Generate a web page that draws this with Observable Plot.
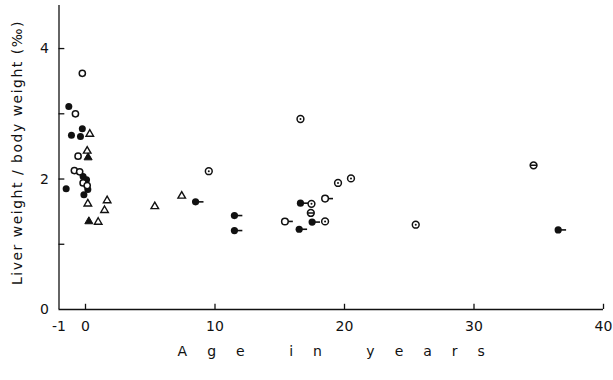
<!DOCTYPE html>
<html>
<head>
<meta charset="utf-8">
<script src="https://cdn.jsdelivr.net/npm/d3@7"></script>
<script src="https://cdn.jsdelivr.net/npm/@observablehq/plot@0.6"></script>
<style>
  body { margin: 0; background: #fff; }
  #chart svg { display: block; }
</style>
</head>
<body>
<div id="chart"></div>
<script>
// Liver weight / body weight (‰) against age in years; -1..0 is the prenatal year.
// Filled circles
const filledAge   = [-0.63, -0.12, -0.53, -0.19, -0.09, 0.08, 0.18, -0.06, -0.73];
const filledRatio = [3.11, 2.77, 2.67, 2.65, 2.04, 1.99, 1.84, 1.76, 1.85];
// Open circles
const openAge   = [-0.12, -0.38, -0.28, -0.42, -0.22, -0.09, 0.13];
const openRatio = [3.62, 3.00, 2.35, 2.13, 2.11, 1.94, 1.90];
// Filled triangles
const filledTriAge   = [0.20, 0.26];
const filledTriRatio = [2.33, 1.35];
// Open triangles
const openTriAge   = [0.33, 0.13, 0.18, 1.67, 1.47, 0.98, 5.35, 7.43];
const openTriRatio = [2.69, 2.43, 1.62, 1.67, 1.52, 1.34, 1.58, 1.74];
// Circles with a centre dot
const dotCircAge   = [9.52, 16.6, 17.45, 18.5, 19.5, 20.5, 25.5];
const dotCircRatio = [2.12, 2.92, 1.62, 1.35, 1.94, 2.01, 1.30];
// Circles with a bar
const barCircAge   = [17.4, 34.6];
const barCircRatio = [1.48, 2.21];
// Filled circles with a tail (age given as lower bound)
const tailFilledAge   = [8.5, 11.5, 11.5, 16.6, 17.5, 16.5, 36.5];
const tailFilledRatio = [1.65, 1.44, 1.21, 1.63, 1.34, 1.23, 1.22];
// Open circles with a tail
const tailOpenAge   = [15.4, 18.5];
const tailOpenRatio = [1.35, 1.70];

const xTicks = [0, 10, 20, 30, 40];
const xTickLabels = [-1, 0, 10, 20, 30, 40];
const yTicks = [1, 2, 3, 4];
const yTickLabels = [0, 2, 4];
const xTitle = "Age in years";
const yTitle = "Liver weight / body weight (‰)";

const pts = (ages, ratios) => ages.map((a, i) => ({age: a, ratio: ratios[i]}));
const filled = pts(filledAge, filledRatio);
const open = pts(openAge, openRatio);
const filledTri = pts(filledTriAge, filledTriRatio);
const openTri = pts(openTriAge, openTriRatio);
const dotCirc = pts(dotCircAge, dotCircRatio);
const barCirc = pts(barCircAge, barCircRatio);
const tailFilled = pts(tailFilledAge, tailFilledRatio);
const tailOpen = pts(tailOpenAge, tailOpenRatio);
const tails = tailFilled.concat(tailOpen);

// circle crossed by a horizontal bar
const barSymbol = {
  draw(ctx, size) {
    const r = Math.sqrt(size / Math.PI);
    ctx.moveTo(r, 0);
    ctx.arc(0, 0, r, 0, 2 * Math.PI);
    ctx.moveTo(-r, 0);
    ctx.lineTo(r, 0);
  }
};

const ink = "#111";
const font = "'DejaVu Sans', 'Liberation Sans', sans-serif";

const chart = Plot.plot({
  width: 613,
  height: 380,
  marginLeft: 58.5,
  marginRight: 10,
  marginTop: 5,
  marginBottom: 71,
  style: {fontFamily: font, fontSize: "14px", color: ink, background: "#fff"},
  x: {type: "linear", domain: [-1, 0, 40], range: [58.5, 85, 603],
      ticks: xTickLabels, tickSize: 0, tickPadding: 12, tickFormat: d => String(d), label: null},
  y: {type: "linear", domain: [0, 4.66], range: [309, 5],
      ticks: yTickLabels, tickSize: 0, tickPadding: 10, tickFormat: d => String(d), label: null},
  marks: [
    // axis lines
    Plot.ruleY([0], {stroke: ink, strokeWidth: 1.3}),
    Plot.ruleX([-1], {stroke: ink, strokeWidth: 1.3}),
    // inward ticks
    Plot.ruleX(xTicks, {x: d => d, y1: 0, y2: 0.08, stroke: ink, strokeWidth: 1.3}),
    Plot.ruleY(yTicks, {y: d => d, x1: -1, x2: -0.78, stroke: ink, strokeWidth: 1.3}),
    // titles
    Plot.text([xTitle], {frameAnchor: "bottom", dy: 46, dx: 10, text: d => d, fontSize: 14}),
    Plot.text([yTitle], {frameAnchor: "left", textAnchor: "middle", rotate: -90, dx: -41, dy: -5, text: d => d, fontSize: 14}),
    // tails
    Plot.ruleY(tails, {y: "ratio", x1: "age", x2: d => d.age + 0.65, stroke: ink, strokeWidth: 1.6}),
    // markers
    Plot.dot(filled, {x: "age", y: "ratio", r: 3.5, fill: ink, stroke: null}),
    Plot.dot(tailFilled, {x: "age", y: "ratio", r: 3.6, fill: ink, stroke: null}),
    Plot.dot(open, {x: "age", y: "ratio", r: 3.1, fill: "#fff", stroke: ink, strokeWidth: 1.5}),
    Plot.dot(tailOpen, {x: "age", y: "ratio", r: 3.3, fill: "#fff", stroke: ink, strokeWidth: 1.5}),
    Plot.dot(dotCirc, {x: "age", y: "ratio", r: 3.4, fill: "#fff", stroke: ink, strokeWidth: 1.5}),
    Plot.dot(dotCirc, {x: "age", y: "ratio", r: 1, fill: ink, stroke: null}),
    Plot.dot(barCirc, {x: "age", y: "ratio", r: 3.4, symbol: barSymbol, fill: "#fff", stroke: ink, strokeWidth: 1.5}),
    Plot.dot(openTri, {x: "age", y: "ratio", r: 2.8, symbol: "triangle", fill: "#fff", stroke: ink, strokeWidth: 1.4}),
    Plot.dot(filledTri, {x: "age", y: "ratio", r: 3.0, symbol: "triangle", fill: ink, stroke: ink, strokeWidth: 1})
  ]
});

const svg = d3.select(chart);
svg.selectAll("text").each(function () {
  const t = this.textContent;
  if (t === xTitle) this.style.letterSpacing = "20px";
  else if (t === yTitle) this.style.letterSpacing = "1.5px";
});
document.getElementById("chart").appendChild(chart);
</script>
</body>
</html>
